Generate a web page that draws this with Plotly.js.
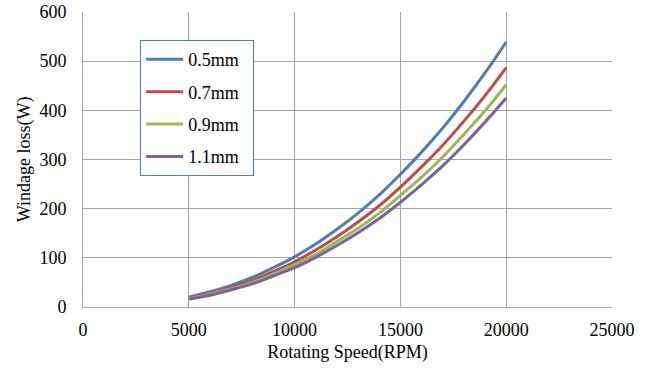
<!DOCTYPE html>
<html><head><meta charset="utf-8">
<script src="https://cdn.plot.ly/plotly-3.0.1.min.js"></script>
<style>body{margin:0;background:#fff}#c{width:650px;height:369px}</style>
</head><body><div id="c"></div>
<script>
const speed = [5000,6000,7000,8000,9000,10000,11000,12000,13000,14000,15000,16000,17000,18000,19000,20000];
const loss05 = [20,31,44,60,80,102,128,158,191,228,270,315,364,418,476,539];
const loss07 = [18,28,40,54,72,92,116,143,173,206,244,285,329,378,430,487];
const loss09 = [17,26,37,50,67,86,107,133,160,191,227,264,305,351,399,452];
const loss11 = [16,24,35,47,63,80,101,125,151,180,213,249,287,330,376,425];
const names = ['0.5mm','0.7mm','0.9mm','1.1mm'];
const colors = ['#4A7EBB','#BE4B48','#98B954','#7D60A0'];
const series = [loss05, loss07, loss09, loss11];
const xTicks = [0,5000,10000,15000,20000,25000];
const yTicks = [0,100,200,300,400,500,600];

const font = "'Liberation Serif', 'Times New Roman', serif";
const traces = series.map((s,i)=>({
  x: speed, y: s, name: names[i] + '\u00a0\u00a0', type:'scatter', mode:'lines',
  line:{color:colors[i], width:3, shape:'spline'}, legendgroup:'g'+i
}));
const layout = {
  width:650, height:369,
  margin:{l:83, r:38, t:12, b:62},
  paper_bgcolor:'#fff', plot_bgcolor:'#fff',
  font:{family:font, size:17, color:'#000'},
  showlegend:true,
  legend:{x:0.108, y:0.905, xanchor:'left', yanchor:'top',
    bordercolor:'#4A7EBB', borderwidth:1, bgcolor:'#fff', itemwidth:37,
    font:{family:font, size:18}, traceorder:'grouped', tracegroupgap:6},
  xaxis:{range:[0,25000], tickvals:xTicks, ticktext:xTicks.map(String),
    showgrid:true, gridcolor:'#A6A6A6', gridwidth:1, zeroline:false,
    showline:true, linecolor:'#A6A6A6', ticks:'', ticklabelstandoff:6,
    tickfont:{family:font, size:18},
    title:{text:'Rotating Speed(RPM)', font:{family:font,size:18}, standoff:6}},
  yaxis:{range:[0,600], tickvals:yTicks, ticktext:yTicks.map(String),
    showgrid:true, gridcolor:'#A6A6A6', gridwidth:1, zeroline:false,
    showline:true, linecolor:'#A6A6A6', ticks:'', ticklabelstandoff:12,
    tickfont:{family:font, size:18},
    title:{text:'Windage loss(W)', font:{family:font,size:18}, standoff:4}}
};
Plotly.newPlot('c', traces, layout, {displayModeBar:false, staticPlot:true});
</script></body></html>
